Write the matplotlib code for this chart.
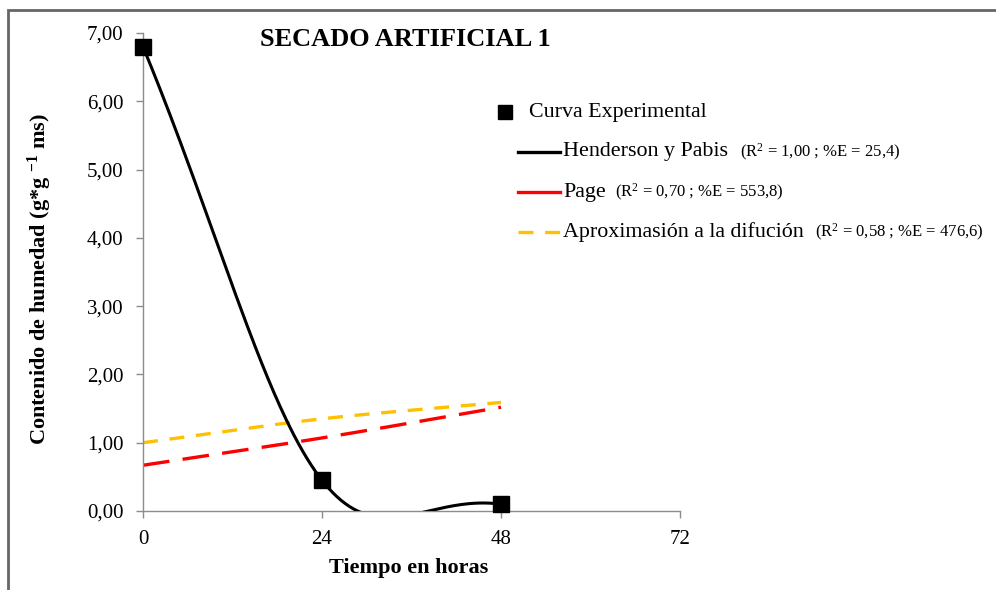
import matplotlib
matplotlib.use("Agg")
import matplotlib.pyplot as plt
from matplotlib.lines import Line2D
from matplotlib.patches import Rectangle
import numpy as np

plt.rcParams["font.family"] = ["Liberation Serif", "DejaVu Serif"]
plt.rcParams["mathtext.fontset"] = "custom"
plt.rcParams["mathtext.rm"] = "Liberation Serif"
plt.rcParams["mathtext.it"] = "Liberation Serif:italic"
plt.rcParams["mathtext.bf"] = "Liberation Serif:bold"

# data
horas = [0, 24, 48]
experimental = [6.80, 0.45, 0.10]
henderson = [6.80, 0.45, 0.10]
page = [0.67, 1.07, 1.52]
difusion = [1.00, 1.35, 1.59]

x_ticks = [0, 24, 48, 72]
y_ticks = [0, 1, 2, 3, 4, 5, 6, 7]

leyenda = ["Curva Experimental", "Henderson y Pabis", "Page",
           "Aproximasión a la difución"]
estadisticos = ["(R$^2$ = 1,00 ; %E = 25,4)",
                "(R$^2$ = 0,70 ; %E = 553,8)",
                "(R$^2$ = 0,58 ; %E = 476,6)"]


def suavizado(xs, ys, k=0.16, e=0.42, n=80):
    # smoothed line like the spreadsheet one (cubic bezier segments)
    p = np.column_stack([xs, ys]).astype(float)
    out = []
    for i in range(len(p) - 1):
        if i > 0:
            c1 = p[i] + (p[i + 1] - p[i - 1]) * k
        else:
            c1 = p[i] + (p[i + 1] - p[i]) * e
        if i + 2 < len(p):
            c2 = p[i + 1] - (p[i + 2] - p[i]) * k
        else:
            c2 = p[i + 1] - (p[i + 1] - p[i]) * e
        t = np.linspace(0, 1, n)[:, None]
        seg = ((1 - t) ** 3 * p[i] + 3 * (1 - t) ** 2 * t * c1
               + 3 * (1 - t) * t ** 2 * c2 + t ** 3 * p[i + 1])
        out.append(seg if i == 0 else seg[1:])
    out = np.vstack(out)
    return out[:, 0], out[:, 1]


fig = plt.figure(figsize=(9.96, 5.90), dpi=100)
ax = fig.add_axes([143 / 996, 1 - 511 / 590, 537 / 996, 478 / 590])

gris = "#8c8c8c"
hx, hy = suavizado(horas, henderson)
ax.plot(hx, hy, color="black", lw=2.2, zorder=3)
px, py = suavizado(horas, page)
ax.plot(px, py, color="#ff0000", lw=2.4, dashes=(8, 4), zorder=2)
dx, dy = suavizado(horas, difusion)
ax.plot(dx, dy, color="#ffc000", lw=2.4, dashes=(4.5, 3.5), zorder=2)
ax.plot(horas, experimental, ls="none", marker="s", ms=11, color="black",
        zorder=4, clip_on=False)

ax.set_xlim(0, 72)
ax.set_ylim(0, 7)
ax.set_xticks(x_ticks)
ax.set_yticks(y_ticks)
ax.set_yticklabels([f"{v:.2f}".replace(".", ",") for v in y_ticks])
ax.tick_params(axis="both", direction="out", length=5, width=1, color=gris,
               labelsize=15, pad=9)
for s in ["top", "right"]:
    ax.spines[s].set_visible(False)
for s in ["left", "bottom"]:
    ax.spines[s].set_color(gris)
    ax.spines[s].set_linewidth(1)

fig.text(409 / 996, 1 - 568 / 590, "Tiempo en horas", ha="center",
         va="center", fontsize=16, fontweight="bold")
fig.text(40 / 996, 1 - 279 / 590,
         r"Contenido de humedad (g*g $^{\mathbf{-1}}$ ms)", ha="center",
         va="center", rotation=90, fontsize=16, fontweight="bold")
fig.text(405 / 996, 1 - 39 / 590, "SECADO ARTIFICIAL 1", ha="center",
         va="center", fontsize=19, fontweight="bold")

# legend drawn by hand (the reference spaces its entries unevenly)
fy = lambda y: 1 - y / 590
fx = lambda x: x / 996
fig.add_artist(Line2D([fx(505)], [fy(112)], marker="s", ms=10,
                      color="black", ls="none"))
fig.text(fx(529), fy(112), leyenda[0], va="center", fontsize=15.8)
estilos = [dict(color="black"), dict(color="#ff0000"),
           dict(color="#ffc000", dashes=(4.5, 3.5))]
filas = [152, 192, 232]
texto_x = [740, 615, 815]
for k in range(3):
    fig.add_artist(Line2D([fx(518), fx(560)], [fy(filas[k])] * 2, lw=2.4,
                          **estilos[k]))
    fig.text(fx(563), fy(filas[k]), leyenda[k + 1], va="center",
             fontsize=15.8)
    fig.text(fx(texto_x[k]), fy(filas[k]), estadisticos[k], va="center",
             fontsize=12)

fig.add_artist(Rectangle((8 / 996, -0.1), 1.2, 1.1 - 10 / 590,
                         transform=fig.transFigure, fill=False,
                         edgecolor="#666666", lw=2))

fig.savefig("out.png", dpi=100)
